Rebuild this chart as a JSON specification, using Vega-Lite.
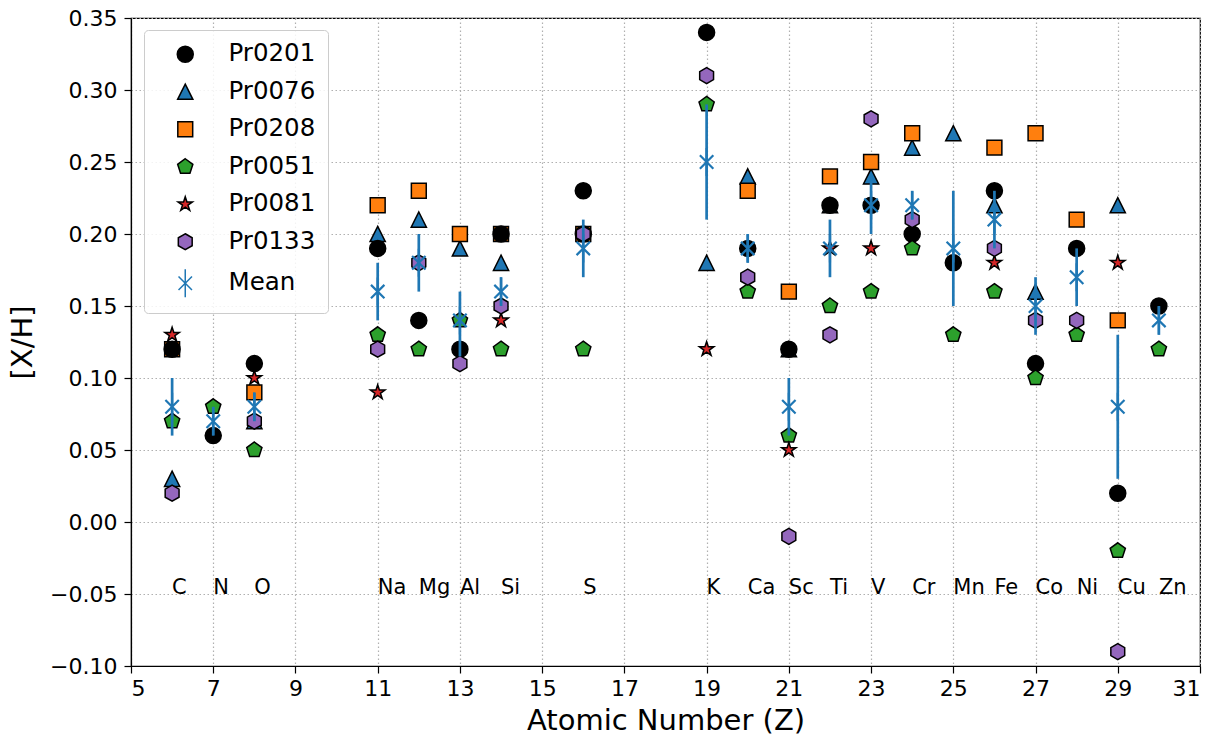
{
  "$schema": "https://vega.github.io/schema/vega-lite/v6.json",
  "width": 1069,
  "height": 648,
  "autosize": {"type": "none"},
  "padding": {"left": 131, "top": 18, "right": 12, "bottom": 72},
  "background": "white",
  "datasets": {
    "pts": [
      {"Z": 6, "series": "Pr0076", "v": 0.03},
      {"Z": 8, "series": "Pr0076", "v": 0.07},
      {"Z": 11, "series": "Pr0076", "v": 0.20},
      {"Z": 12, "series": "Pr0076", "v": 0.21},
      {"Z": 13, "series": "Pr0076", "v": 0.19},
      {"Z": 14, "series": "Pr0076", "v": 0.18},
      {"Z": 19, "series": "Pr0076", "v": 0.18},
      {"Z": 20, "series": "Pr0076", "v": 0.24},
      {"Z": 21, "series": "Pr0076", "v": 0.12},
      {"Z": 22, "series": "Pr0076", "v": 0.22},
      {"Z": 23, "series": "Pr0076", "v": 0.24},
      {"Z": 24, "series": "Pr0076", "v": 0.26},
      {"Z": 25, "series": "Pr0076", "v": 0.27},
      {"Z": 26, "series": "Pr0076", "v": 0.22},
      {"Z": 27, "series": "Pr0076", "v": 0.16},
      {"Z": 29, "series": "Pr0076", "v": 0.22},
      {"Z": 6, "series": "Pr0208", "v": 0.12},
      {"Z": 8, "series": "Pr0208", "v": 0.09},
      {"Z": 11, "series": "Pr0208", "v": 0.22},
      {"Z": 12, "series": "Pr0208", "v": 0.23},
      {"Z": 13, "series": "Pr0208", "v": 0.20},
      {"Z": 14, "series": "Pr0208", "v": 0.20},
      {"Z": 16, "series": "Pr0208", "v": 0.20},
      {"Z": 20, "series": "Pr0208", "v": 0.23},
      {"Z": 21, "series": "Pr0208", "v": 0.16},
      {"Z": 22, "series": "Pr0208", "v": 0.24},
      {"Z": 23, "series": "Pr0208", "v": 0.25},
      {"Z": 24, "series": "Pr0208", "v": 0.27},
      {"Z": 26, "series": "Pr0208", "v": 0.26},
      {"Z": 27, "series": "Pr0208", "v": 0.27},
      {"Z": 28, "series": "Pr0208", "v": 0.21},
      {"Z": 29, "series": "Pr0208", "v": 0.14},
      {"Z": 6, "series": "Pr0201", "v": 0.12},
      {"Z": 7, "series": "Pr0201", "v": 0.06},
      {"Z": 8, "series": "Pr0201", "v": 0.11},
      {"Z": 11, "series": "Pr0201", "v": 0.19},
      {"Z": 12, "series": "Pr0201", "v": 0.14},
      {"Z": 13, "series": "Pr0201", "v": 0.12},
      {"Z": 14, "series": "Pr0201", "v": 0.20},
      {"Z": 16, "series": "Pr0201", "v": 0.23},
      {"Z": 16, "series": "Pr0201", "v": 0.20},
      {"Z": 19, "series": "Pr0201", "v": 0.34},
      {"Z": 20, "series": "Pr0201", "v": 0.19},
      {"Z": 21, "series": "Pr0201", "v": 0.12},
      {"Z": 22, "series": "Pr0201", "v": 0.22},
      {"Z": 23, "series": "Pr0201", "v": 0.22},
      {"Z": 24, "series": "Pr0201", "v": 0.20},
      {"Z": 25, "series": "Pr0201", "v": 0.18},
      {"Z": 26, "series": "Pr0201", "v": 0.23},
      {"Z": 27, "series": "Pr0201", "v": 0.11},
      {"Z": 28, "series": "Pr0201", "v": 0.19},
      {"Z": 29, "series": "Pr0201", "v": 0.02},
      {"Z": 30, "series": "Pr0201", "v": 0.15},
      {"Z": 6, "series": "Pr0051", "v": 0.07},
      {"Z": 7, "series": "Pr0051", "v": 0.08},
      {"Z": 8, "series": "Pr0051", "v": 0.05},
      {"Z": 11, "series": "Pr0051", "v": 0.13},
      {"Z": 12, "series": "Pr0051", "v": 0.12},
      {"Z": 13, "series": "Pr0051", "v": 0.14},
      {"Z": 14, "series": "Pr0051", "v": 0.12},
      {"Z": 16, "series": "Pr0051", "v": 0.12},
      {"Z": 19, "series": "Pr0051", "v": 0.29},
      {"Z": 20, "series": "Pr0051", "v": 0.16},
      {"Z": 21, "series": "Pr0051", "v": 0.06},
      {"Z": 22, "series": "Pr0051", "v": 0.15},
      {"Z": 23, "series": "Pr0051", "v": 0.16},
      {"Z": 24, "series": "Pr0051", "v": 0.19},
      {"Z": 25, "series": "Pr0051", "v": 0.13},
      {"Z": 26, "series": "Pr0051", "v": 0.16},
      {"Z": 27, "series": "Pr0051", "v": 0.10},
      {"Z": 28, "series": "Pr0051", "v": 0.13},
      {"Z": 29, "series": "Pr0051", "v": -0.02},
      {"Z": 30, "series": "Pr0051", "v": 0.12},
      {"Z": 6, "series": "Pr0081", "v": 0.13},
      {"Z": 8, "series": "Pr0081", "v": 0.10},
      {"Z": 11, "series": "Pr0081", "v": 0.09},
      {"Z": 14, "series": "Pr0081", "v": 0.14},
      {"Z": 19, "series": "Pr0081", "v": 0.12},
      {"Z": 21, "series": "Pr0081", "v": 0.05},
      {"Z": 22, "series": "Pr0081", "v": 0.19},
      {"Z": 23, "series": "Pr0081", "v": 0.19},
      {"Z": 26, "series": "Pr0081", "v": 0.18},
      {"Z": 29, "series": "Pr0081", "v": 0.18},
      {"Z": 6, "series": "Pr0133", "v": 0.02},
      {"Z": 8, "series": "Pr0133", "v": 0.07},
      {"Z": 11, "series": "Pr0133", "v": 0.12},
      {"Z": 12, "series": "Pr0133", "v": 0.18},
      {"Z": 13, "series": "Pr0133", "v": 0.11},
      {"Z": 14, "series": "Pr0133", "v": 0.15},
      {"Z": 16, "series": "Pr0133", "v": 0.20},
      {"Z": 19, "series": "Pr0133", "v": 0.31},
      {"Z": 20, "series": "Pr0133", "v": 0.17},
      {"Z": 21, "series": "Pr0133", "v": -0.01},
      {"Z": 22, "series": "Pr0133", "v": 0.13},
      {"Z": 23, "series": "Pr0133", "v": 0.28},
      {"Z": 24, "series": "Pr0133", "v": 0.21},
      {"Z": 26, "series": "Pr0133", "v": 0.19},
      {"Z": 27, "series": "Pr0133", "v": 0.14},
      {"Z": 28, "series": "Pr0133", "v": 0.14},
      {"Z": 29, "series": "Pr0133", "v": -0.09},
      {"Z": 6, "series": "Mean", "v": 0.08, "lo": 0.06, "hi": 0.10},
      {"Z": 7, "series": "Mean", "v": 0.07, "lo": 0.06, "hi": 0.08},
      {"Z": 8, "series": "Mean", "v": 0.08, "lo": 0.07, "hi": 0.09},
      {"Z": 11, "series": "Mean", "v": 0.16, "lo": 0.14, "hi": 0.18},
      {"Z": 12, "series": "Mean", "v": 0.18, "lo": 0.16, "hi": 0.20},
      {"Z": 13, "series": "Mean", "v": 0.14, "lo": 0.115, "hi": 0.16},
      {"Z": 14, "series": "Mean", "v": 0.16, "lo": 0.15, "hi": 0.17},
      {"Z": 16, "series": "Mean", "v": 0.19, "lo": 0.17, "hi": 0.21},
      {"Z": 19, "series": "Mean", "v": 0.25, "lo": 0.21, "hi": 0.29},
      {"Z": 20, "series": "Mean", "v": 0.19, "lo": 0.18, "hi": 0.20},
      {"Z": 21, "series": "Mean", "v": 0.08, "lo": 0.06, "hi": 0.10},
      {"Z": 22, "series": "Mean", "v": 0.19, "lo": 0.17, "hi": 0.21},
      {"Z": 23, "series": "Mean", "v": 0.22, "lo": 0.20, "hi": 0.24},
      {"Z": 24, "series": "Mean", "v": 0.22, "lo": 0.21, "hi": 0.23},
      {"Z": 25, "series": "Mean", "v": 0.19, "lo": 0.15, "hi": 0.23},
      {"Z": 26, "series": "Mean", "v": 0.21, "lo": 0.19, "hi": 0.23},
      {"Z": 27, "series": "Mean", "v": 0.15, "lo": 0.13, "hi": 0.17},
      {"Z": 28, "series": "Mean", "v": 0.17, "lo": 0.15, "hi": 0.19},
      {"Z": 29, "series": "Mean", "v": 0.08, "lo": 0.03, "hi": 0.13},
      {"Z": 30, "series": "Mean", "v": 0.14, "lo": 0.13, "hi": 0.15}
    ],
    "labels": [
      {"Z": 6, "el": "C"}, {"Z": 7, "el": "N"}, {"Z": 8, "el": "O"},
      {"Z": 11, "el": "Na"}, {"Z": 12, "el": "Mg"}, {"Z": 13, "el": "Al"},
      {"Z": 14, "el": "Si"}, {"Z": 16, "el": "S"}, {"Z": 19, "el": "K"},
      {"Z": 20, "el": "Ca"}, {"Z": 21, "el": "Sc"}, {"Z": 22, "el": "Ti"},
      {"Z": 23, "el": "V"}, {"Z": 24, "el": "Cr"}, {"Z": 25, "el": "Mn"},
      {"Z": 26, "el": "Fe"}, {"Z": 27, "el": "Co"}, {"Z": 28, "el": "Ni"},
      {"Z": 29, "el": "Cu"}, {"Z": 30, "el": "Zn"}
    ]
  },
  "layer": [
    {
      "data": {"name": "labels"},
      "mark": {"type": "text", "align": "left", "baseline": "alphabetic", "fontSize": 21, "font": "DejaVu Sans", "color": "black"},
      "encoding": {
        "x": {"field": "Z", "type": "quantitative"},
        "y": {"datum": -0.05, "type": "quantitative"},
        "text": {"field": "el"}
      }
    },
    {
      "data": {"name": "pts"},
      "mark": {"type": "point", "size": 256, "opacity": 1, "fillOpacity": 1, "strokeOpacity": 1},
      "encoding": {
        "x": {
          "field": "Z", "type": "quantitative",
          "scale": {"domain": [5, 31], "nice": false, "zero": false},
          "axis": {"values": [5, 7, 9, 11, 13, 15, 17, 19, 21, 23, 25, 27, 29, 31], "format": "d", "title": "Atomic Number (Z)"}
        },
        "y": {
          "field": "v", "type": "quantitative",
          "scale": {"domain": [-0.1, 0.35], "nice": false, "zero": false},
          "axis": {"values": [-0.1, -0.05, 0, 0.05, 0.1, 0.15, 0.2, 0.25, 0.3, 0.35], "format": ".2f", "title": "[X/H]"}
        },
        "shape": {
          "field": "series", "type": "nominal",
          "scale": {
            "domain": ["Pr0201", "Pr0076", "Pr0208", "Pr0051", "Pr0081", "Pr0133", "Mean"],
            "range": [
              "M-1,0A1,1,0,1,0,1,0A1,1,0,1,0,-1,0Z",
              "M0,-0.95L0.95,0.95L-0.95,0.95Z",
              "M-0.93,-0.93L0.93,-0.93L0.93,0.93L-0.93,0.93Z",
              "M0,-1L0.951,-0.309L0.588,0.809L-0.588,0.809L-0.951,-0.309Z",
              "M0,-0.95L0.213,-0.294L0.903,-0.294L0.345,0.112L0.559,0.769L0,0.363L-0.559,0.769L-0.345,0.112L-0.903,-0.294L-0.213,-0.294Z",
              "M0,-1L0.866,-0.5L0.866,0.5L0,1L-0.866,0.5L-0.866,-0.5Z",
              "M-0.84,-0.84L0.84,0.84M-0.84,0.84L0.84,-0.84M0,-1.75L0,1.75"
            ]
          },
          "legend": {"title": null}
        },
        "fill": {
          "field": "series", "type": "nominal",
          "scale": {
            "domain": ["Pr0201", "Pr0076", "Pr0208", "Pr0051", "Pr0081", "Pr0133", "Mean"],
            "range": ["#000000", "#1f77b4", "#ff7f0e", "#2ca02c", "#d62728", "#9467bd", "transparent"]
          },
          "legend": {"title": null}
        },
        "stroke": {
          "field": "series", "type": "nominal",
          "scale": {
            "domain": ["Pr0201", "Pr0076", "Pr0208", "Pr0051", "Pr0081", "Pr0133", "Mean"],
            "range": ["#000000", "#000000", "#000000", "#000000", "#000000", "#000000", "#1f77b4"]
          },
          "legend": {"title": null}
        },
        "strokeWidth": {"condition": {"test": "datum.series === 'Mean'", "value": 2.2}, "value": 1.5}
      }
    },
    {
      "data": {"name": "pts"},
      "transform": [{"filter": "datum.series === 'Mean'"}],
      "mark": {"type": "rule", "color": "#1f77b4", "strokeWidth": 2.7},
      "encoding": {
        "x": {"field": "Z", "type": "quantitative"},
        "y": {"field": "lo", "type": "quantitative"},
        "y2": {"field": "hi"}
      }
    }
  ],
  "config": {
    "font": "DejaVu Sans",
    "view": {"stroke": "black", "strokeWidth": 1.2},
    "axis": {
      "domainColor": "black",
      "domainWidth": 1.2,
      "tickColor": "black",
      "tickWidth": 1.2,
      "tickSize": 7,
      "labelFontSize": 22,
      "labelColor": "black",
      "labelFont": "DejaVu Sans",
      "titleFont": "DejaVu Sans",
      "titleFontSize": 29,
      "titleFontWeight": "normal",
      "titleColor": "black",
      "grid": true,
      "gridColor": "#b0b0b0",
      "gridDash": [1.5, 2.5],
      "gridWidth": 1.2
    },
    "axisX": {"labelPadding": 5, "titlePadding": 7},
    "axisY": {"labelPadding": 7, "titlePadding": 12},
    "legend": {
      "orient": "none",
      "legendX": 13,
      "legendY": 12,
      "padding": 12,
      "rowPadding": 12.5,
      "symbolOffset": 17,
      "labelOffset": 31,
      "labelFontSize": 24.5,
      "labelFont": "DejaVu Sans",
      "labelColor": "black",
      "symbolSize": 256,
      "symbolStrokeWidth": 1.5,
      "strokeColor": "#cccccc",
      "fillColor": "rgba(255,255,255,0.85)",
      "cornerRadius": 4
    }
  }
}
